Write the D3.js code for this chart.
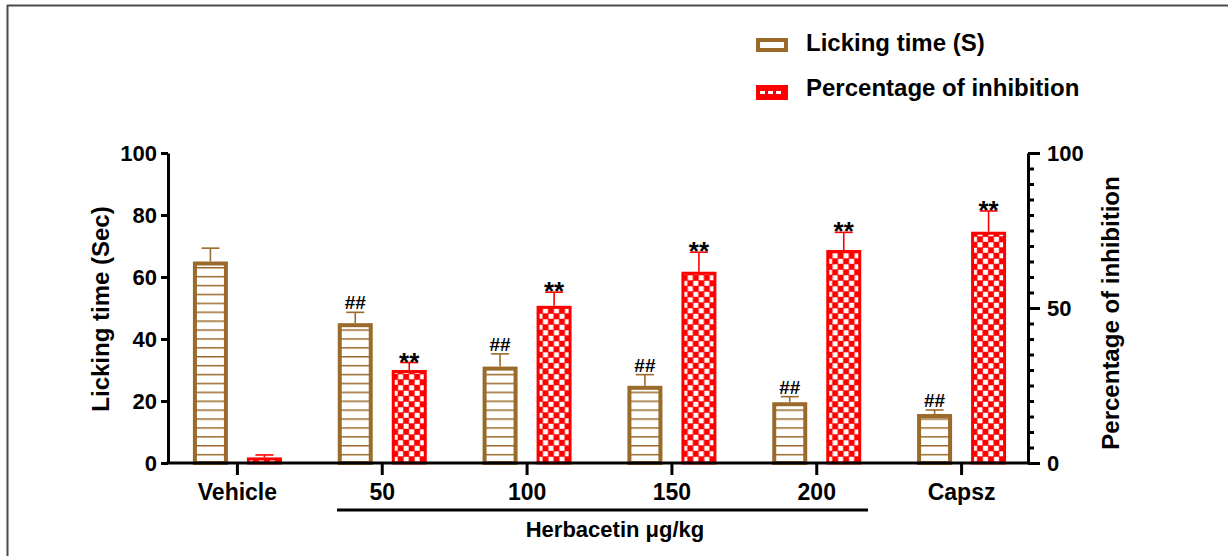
<!DOCTYPE html>
<html>
<head>
<meta charset="utf-8">
<script src="https://cdn.jsdelivr.net/npm/d3@7"></script>
<style>
  body { margin: 0; background: #fff; }
  text { font-family: "Liberation Sans", Arial, sans-serif; font-weight: bold; }
</style>
</head>
<body>
<div id="chart"></div>
<script>
// values
const categories = ["Vehicle", "50", "100", "150", "200", "Capsz"]
const series = ["licking", "inhibition"]
const licking = [65, 45.1, 31.1, 24.9, 19.6, 15.8]
const lickingErr = [4.3, 3.5, 4.1, 3.6, 1.8, 1.3]
const inhibition = [1.8, 30, 50.7, 61.7, 68.7, 74.6]
const inhibitionErr = [0.8, 2.4, 4.4, 6.3, 5.7, 6.7]
const lickingMarks = ["", "##", "##", "##", "##", "##"]
const inhibitionMarks = ["", "**", "**", "**", "**", "**"]
const leftTicks = [0, 20, 40, 60, 80, 100]
const rightMajor = [0, 50, 100]
const rightMinor = d3.range(0, 101, 5)
const legendLabels = ["Licking time (S)", "Percentage of inhibition"]

const width = 1228
const height = 556
const brown = "#9a6a2a"
const red = "#ff0000"

const svg = d3.select("#chart")
  .append("svg")
  .attr("width", width)
  .attr("height", height)

// frame lines (top and left only)
svg.append("line").attr("x1", 7).attr("x2", width).attr("y1", 5.5).attr("y2", 5.5)
  .attr("stroke", "#4a4a4a").attr("stroke-width", 2)
svg.append("line").attr("x1", 7.5).attr("x2", 7.5).attr("y1", 5).attr("y2", height)
  .attr("stroke", "#4a4a4a").attr("stroke-width", 2)

// patterns
const defs = svg.append("defs")
const hatch = defs.append("pattern")
  .attr("id", "hatch").attr("patternUnits", "userSpaceOnUse")
  .attr("width", 10).attr("height", 8.9)
hatch.append("rect").attr("width", 10).attr("height", 8.9).attr("fill", "#fff")
hatch.append("rect").attr("y", 0).attr("width", 10).attr("height", 1.5).attr("fill", brown)

const checker = defs.append("pattern")
  .attr("id", "checker").attr("patternUnits", "userSpaceOnUse")
  .attr("width", 11).attr("height", 11)
checker.append("rect").attr("width", 11).attr("height", 11).attr("fill", red)
checker.append("rect").attr("x", 0.3).attr("y", 0.3).attr("width", 5).attr("height", 5).attr("fill", "#fff")
checker.append("rect").attr("x", 5.8).attr("y", 5.8).attr("width", 5).attr("height", 5).attr("fill", "#fff")

// scales
const y = d3.scaleLinear().domain([0, 100]).range([463, 153])
const yR = d3.scaleLinear().domain([0, 100]).range([463, 153])
const x0 = d3.scaleBand().domain(categories).range([165, 1034]).padding(0)
const x1 = d3.scaleBand().domain(series)
  .range([x0.bandwidth() / 2 - 44.5, x0.bandwidth() / 2 + 44.5])
  .paddingInner(0.352).paddingOuter(0)

const xLeft = 168
const xRight = 1028

// left axis
const leftAxis = svg.append("g")
  .attr("transform", `translate(${xLeft},0)`)
  .call(d3.axisLeft(y).tickValues(leftTicks).tickSize(7).tickPadding(4).tickSizeOuter(0))
leftAxis.select(".domain").attr("stroke-width", 3)
leftAxis.selectAll(".tick line").attr("stroke-width", 3)
leftAxis.selectAll("text").attr("font-size", 22).attr("fill", "#000")

// right axis: minor then major
const rightMinorAxis = svg.append("g")
  .attr("transform", `translate(${xRight},0)`)
  .call(d3.axisRight(yR).tickValues(rightMinor).tickSize(6).tickFormat("").tickSizeOuter(0))
rightMinorAxis.select(".domain").attr("stroke-width", 3)
rightMinorAxis.selectAll(".tick line").attr("stroke-width", 3)

const rightAxis = svg.append("g")
  .attr("transform", `translate(${xRight},0)`)
  .call(d3.axisRight(yR).tickValues(rightMajor).tickSize(12).tickPadding(7).tickSizeOuter(0))
rightAxis.select(".domain").remove()
rightAxis.selectAll(".tick line").attr("stroke-width", 3)
rightAxis.selectAll("text").attr("font-size", 22).attr("fill", "#000")

// bars
const groups = svg.selectAll(".group")
  .data(categories)
  .enter().append("g")
  .attr("class", "group")
  .attr("transform", d => `translate(${x0(d)},0)`)

const barData = (d, i) => [
  { key: "licking", value: licking[i], err: lickingErr[i], mark: lickingMarks[i] },
  { key: "inhibition", value: inhibition[i], err: inhibitionErr[i], mark: inhibitionMarks[i] }
]

groups.each(function (d, i) {
  const g = d3.select(this)
  barData(d, i).forEach(b => {
    const col = b.key === "licking" ? brown : red
    const sw = b.key === "licking" ? 4 : 3
    const bx = x1(b.key)
    const bw = x1.bandwidth()
    const cx = bx + bw / 2
    const top = y(b.value)
    // error bar (upper only)
    const et = y(b.value + b.err)
    g.append("line").attr("x1", cx).attr("x2", cx).attr("y1", top).attr("y2", et)
      .attr("stroke", col).attr("stroke-width", 1.6)
    g.append("line").attr("x1", cx - 9).attr("x2", cx + 9).attr("y1", et).attr("y2", et)
      .attr("stroke", col).attr("stroke-width", 1.6)
    g.append("rect")
      .attr("x", bx + sw / 2)
      .attr("y", top + sw / 2)
      .attr("width", bw - sw)
      .attr("height", Math.max(0, y(0) - top - sw / 2))
      .attr("fill", b.key === "licking" ? "url(#hatch)" : "url(#checker)")
      .attr("stroke", col)
      .attr("stroke-width", sw)
    if (b.mark) {
      g.append("text")
        .attr("x", cx)
        .attr("y", b.key === "licking" ? et - 3 : et + 8)
        .attr("text-anchor", "middle")
        .attr("font-size", b.key === "licking" ? 19 : 26)
        .attr("fill", "#000")
        .text(b.mark)
    }
  })
})

// x axis
const xAxis = svg.append("g")
  .attr("transform", `translate(0,${y(0)})`)
  .call(d3.axisBottom(x0).tickSize(12).tickSizeOuter(0))
xAxis.select(".domain").remove()
xAxis.selectAll(".tick line").attr("stroke-width", 3)
xAxis.selectAll("text").attr("font-size", 23).attr("fill", "#000")
  .attr("y", 37).attr("dy", 0)
svg.append("line").attr("x1", xLeft - 1.5).attr("x2", xRight + 1.5)
  .attr("y1", y(0)).attr("y2", y(0)).attr("stroke", "#000").attr("stroke-width", 3)

// group bracket
svg.append("line").attr("x1", 337).attr("x2", 868).attr("y1", 510).attr("y2", 510)
  .attr("stroke", "#000").attr("stroke-width", 3)
svg.append("text").attr("x", 615).attr("y", 537).attr("text-anchor", "middle")
  .attr("font-size", 22).text("Herbacetin μg/kg")

// axis titles
svg.append("text").attr("transform", "translate(109,309) rotate(-90)")
  .attr("text-anchor", "middle").attr("font-size", 24).text("Licking time (Sec)")
svg.append("text").attr("transform", "translate(1119,313) rotate(-90)")
  .attr("text-anchor", "middle").attr("font-size", 24).text("Percentage of inhibition")

// legend
const legend = svg.append("g")
legend.append("rect").attr("x", 758).attr("y", 40).attr("width", 28).attr("height", 10)
  .attr("fill", "#fff").attr("stroke", brown).attr("stroke-width", 4)
legend.append("rect").attr("x", 756).attr("y", 85).attr("width", 32).attr("height", 15)
  .attr("fill", red)
legend.append("line").attr("x1", 760).attr("x2", 784).attr("y1", 92.5).attr("y2", 92.5)
  .attr("stroke", "#fff").attr("stroke-width", 3).attr("stroke-dasharray", "5,3")
legend.selectAll(".lab")
  .data(legendLabels)
  .enter().append("text")
  .attr("class", "lab")
  .attr("x", 806)
  .attr("y", (d, i) => i === 0 ? 51 : 96)
  .attr("font-size", 24)
  .attr("fill", "#000")
  .text(d => d)
</script>
</body>
</html>
